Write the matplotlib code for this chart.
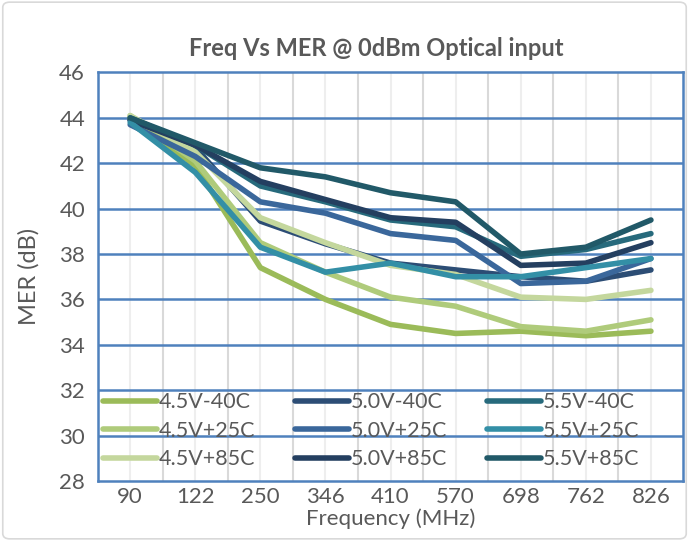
import matplotlib
matplotlib.use("Agg")
import matplotlib.pyplot as plt
from matplotlib.patches import FancyBboxPatch
import numpy as np

plt.rcParams['font.family'] = ['Lato', 'DejaVu Sans']

# Datos del grafico
freqs = ['90', '122', '250', '346', '410', '570', '698', '762', '826']
v45_m40 = [44.0, 41.9, 37.4, 36.0, 34.9, 34.5, 34.6, 34.4, 34.6]
v45_p25 = [44.1, 42.1, 38.5, 37.2, 36.1, 35.7, 34.8, 34.6, 35.1]
v45_p85 = [44.1, 42.5, 39.6, 38.5, 37.5, 37.1, 36.1, 36.0, 36.4]
v50_m40 = [43.9, 42.7, 39.45, 38.45, 37.6, 37.3, 37.0, 36.8, 37.3]
v50_p25 = [43.7, 42.3, 40.3, 39.8, 38.9, 38.6, 36.7, 36.8, 37.8]
v50_p85 = [43.9, 42.8, 41.2, 40.4, 39.6, 39.4, 37.5, 37.6, 38.5]
v55_m40 = [44.0, 42.8, 41.0, 40.3, 39.5, 39.2, 37.9, 38.2, 38.9]
v55_p25 = [43.8, 41.6, 38.3, 37.2, 37.6, 37.0, 37.0, 37.4, 37.8]
v55_p85 = [44.0, 42.9, 41.8, 41.4, 40.7, 40.3, 38.0, 38.3, 39.5]

labels = ['4.5V-40C', '4.5V+25C', '4.5V+85C',
          '5.0V-40C', '5.0V+25C', '5.0V+85C',
          '5.5V-40C', '5.5V+25C', '5.5V+85C']
series = [v45_m40, v45_p25, v45_p85, v50_m40, v50_p25, v50_p85,
          v55_m40, v55_p25, v55_p85]
colors = ['#9BBB59', '#AFCB7B', '#C4D79D',
          '#2C4D75', '#3A679B', '#243F60',
          '#276A7C', '#338FA6', '#215968']
# orden de dibujo (5.0V-40C queda por debajo)
zorders = [3.3, 3.4, 3.5, 3.1, 3.6, 3.8, 3.7, 3.9, 4.0]

gray = '#595959'
blue = '#4F81BD'

fig = plt.figure(figsize=(6.89, 5.41), dpi=100)
ax = fig.add_axes([0.1417, 0.111, 0.8503, 0.755])

# borde de la figura
fig.patches.append(FancyBboxPatch((0.004, 0.004), 0.992, 0.992,
                                  boxstyle='round,pad=0,rounding_size=0.01',
                                  transform=fig.transFigure, fill=False,
                                  edgecolor='#D9D9D9', linewidth=1.2))

x = np.arange(len(freqs))
for vals, lab, col, z in zip(series, labels, colors, zorders):
    ax.plot(x, vals, color=col, linewidth=4, label=lab,
            solid_capstyle='round', solid_joinstyle='round', zorder=z)

ax.set_xlim(-0.5, len(freqs) - 0.5)
ax.set_ylim(28, 46)
ax.set_yticks(np.arange(28, 47, 2))
ax.set_xticks(x)
ax.set_xticklabels(freqs)

# cuadricula
for xv in x:
    ax.axvline(xv, color='#EEEEEE', linewidth=1.5, zorder=1)
for xv in x[:-1] + 0.5:
    ax.axvline(xv, color='#D9D9D9', linewidth=1.5, zorder=1)
for yv in np.arange(30, 46, 2):
    ax.axhline(yv, color=blue, linewidth=1.8, zorder=2)

for s in ax.spines.values():
    s.set_color(blue)
    s.set_linewidth(1.8)

ax.tick_params(length=0, colors=gray, labelsize=16)
ax.tick_params(axis='x', pad=4.5)
ax.tick_params(axis='y', pad=9)
ax.set_title('Freq Vs MER @ 0dBm Optical input', fontsize=17,
             fontweight='bold', color=gray, pad=12, x=0.475)
ax.set_xlabel('Frequency (MHz)', fontsize=16, color=gray, labelpad=1)
ax.set_ylabel('MER (dB)', fontsize=17, color=gray, labelpad=14)

ax.legend(loc='lower left', bbox_to_anchor=(-0.005, 0.007), ncol=3,
          frameon=False, fontsize=15.5, labelcolor=gray,
          handlelength=2.5, handletextpad=0.08, columnspacing=1.85,
          labelspacing=0.4, borderaxespad=0.0)

plt.savefig('out.png', dpi=100)
